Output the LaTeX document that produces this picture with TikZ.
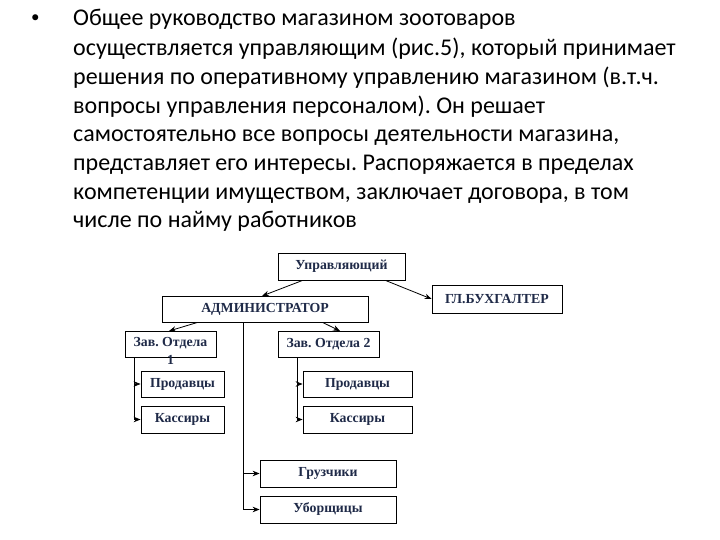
\documentclass[tikz,border=0pt]{standalone}
\usepackage{fontspec}
\setmainfont{Liberation Serif}
\newfontfamily\bodyfont{Carlito}
\usetikzlibrary{arrows.meta}
\definecolor{navy}{HTML}{1F2A48}
\frenchspacing
\tikzset{
  every picture/.style={x=1pt,y=-1pt},
  txtline/.style={anchor=base west,inner sep=0pt,font=\bodyfont\fontsize{24}{28}\selectfont},
  boxfont/.style={text=navy,font=\bfseries\fontsize{13.8}{14}\selectfont},
  box/.style={draw=black,line width=0.8pt,inner sep=0pt,boxfont,align=center},
  conn/.style={line width=0.8pt,-{Stealth[length=7pt,width=5.5pt]}},
  plain/.style={line width=0.8pt}
}
\begin{document}
\begin{tikzpicture}
\useasboundingbox[fill=white] (0,0) rectangle (720,540);
% text
\node[txtline,font=\bodyfont\fontsize{17}{20}\selectfont] (bul) at (31,23) {\textbullet};
\node[txtline] (l1) at (73,26) {Общее руководство магазином зоотоваров};
\node[txtline] (l2) at (73,55.7) {осуществляется управляющим (рис.5), который принимает};
\node[txtline] (l3) at (73,84.4) {решения по оперативному управлению магазином (в.т.ч.};
\node[txtline] (l4) at (73,113.1) {вопросы управления персоналом). Он решает};
\node[txtline] (l5) at (73,141.8) {самостоятельно все вопросы деятельности магазина,};
\node[txtline] (l6) at (73,170.5) {представляет его интересы. Распоряжается в пределах};
\node[txtline] (l7) at (73,199.2) {компетенции имуществом, заключает договора, в том};
\node[txtline] (l8) at (73,227.9) {числе по найму работников};
% boxes
\node[box,minimum width=127pt,minimum height=27pt] (upr) at (341.5,266.5) {Управляющий};
\node[box,minimum width=206pt,minimum height=26pt] (adm) at (265,309) {АДМИНИСТРАТОР};
\node[box,minimum width=130pt,minimum height=28pt] (buh) at (497,299) {ГЛ.БУХГАЛТЕР};
\node[box,minimum width=91pt,minimum height=26pt] (z1) at (170.5,344) {};
\node[boxfont,inner sep=0pt] (z1a) at (170.5,343) {Зав. Отдела};
\node[boxfont,inner sep=0pt] (z1b) at (170.5,359.5) {1};
\node[box,minimum width=101pt,minimum height=26pt] (z2) at (328.5,344) {Зав. Отдела 2};
\node[box,minimum width=83pt,minimum height=26pt] (p1) at (182.5,384) {Продавцы};
\node[box,minimum width=83pt,minimum height=27pt] (k1) at (182.5,419.5) {Кассиры};
\node[box,minimum width=109pt,minimum height=26pt] (p2) at (357.5,384) {Продавцы};
\node[box,minimum width=109pt,minimum height=27pt] (k2) at (357.5,419.5) {Кассиры};
\node[box,minimum width=136pt,minimum height=27pt] (gr) at (328,473.5) {Грузчики};
\node[box,minimum width=136pt,minimum height=27pt] (ub) at (328,509.5) {Уборщицы};
% connectors
\draw[conn] (upr.south west) ++(25,0) -- (262,296);
\draw[conn] (upr.south east) ++(-20,0) -- (buh.west);
\draw[conn] (adm.south west) ++(36,0) -- (169,331);
\draw[conn] (adm.south west) ++(161,0) -- (340,331);
\coordinate (c1top) at (134,357);
\draw[plain] (c1top) -- (134,419.5);
\draw[conn] (134,384) -- (p1.west);
\draw[conn] (134,419.5) -- (k1.west);
\coordinate (c2top) at (297,357);
\draw[plain] (c2top) -- (297,419.5);
\draw[conn] (297,384) -- (p2.west);
\draw[conn] (297,419.5) -- (k2.west);
\coordinate (c3top) at (243,322);
\draw[plain] (c3top) -- (243,509.5);
\draw[conn] (243,473.5) -- (gr.west);
\draw[conn] (243,509.5) -- (ub.west);
\end{tikzpicture}
\end{document}
